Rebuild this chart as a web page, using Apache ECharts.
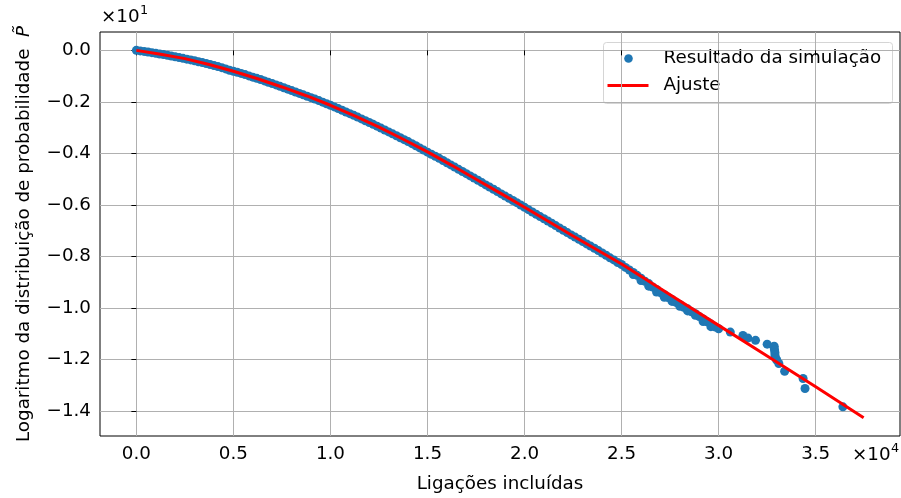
<!DOCTYPE html>
<html>
<head>
<meta charset="utf-8">
<script src="https://cdn.jsdelivr.net/npm/echarts@6/dist/echarts.min.js"></script>
<style>
  html, body { margin: 0; padding: 0; background: #fff; }
  #main { width: 901px; height: 498px; }
</style>
</head>
<body>
<div id="main"></div>
<script>
// tick positions (raw units; labels divided by the ×10^n factor)
var xTicks = [0, 5000, 10000, 15000, 20000, 25000, 30000, 35000];
var yTicks = [-14, -12, -10, -8, -6, -4, -2, 0];

// simulation result: ligações incluídas
var simX = [
  0, 200, 400, 600, 800, 1000, 1200, 1400, 1600, 1800,
  2000, 2200, 2400, 2600, 2800, 3000, 3200, 3400, 3600, 3800,
  4000, 4200, 4400, 4600, 4800, 5000, 5200, 5400, 5600, 5800,
  6000, 6200, 6400, 6600, 6800, 7000, 7200, 7400, 7600, 7800,
  8000, 8200, 8400, 8600, 8800, 9000, 9200, 9400, 9600, 9800,
  10000, 10200, 10400, 10600, 10800, 11000, 11200, 11400, 11600, 11800,
  12000, 12200, 12400, 12600, 12800, 13000, 13200, 13400, 13600, 13800,
  14000, 14200, 14400, 14600, 14800, 15000, 15200, 15400, 15600, 15800,
  16000, 16200, 16400, 16600, 16800, 17000, 17200, 17400, 17600, 17800,
  18000, 18200, 18400, 18600, 18800, 19000, 19200, 19400, 19600, 19800,
  20000, 20200, 20400, 20600, 20800, 21000, 21200, 21400, 21600, 21800,
  22000, 22200, 22400, 22600, 22800, 23000, 23200, 23400, 23600, 23800,
  24000, 24200, 24400, 24600, 24800, 25000, 25200, 25400, 25600, 25600,
  25800, 26000, 26000, 26200, 26400, 26400, 26600, 26800, 26800, 27000,
  27200, 27200, 27400, 27600, 27600, 27800, 28000, 28000, 28200, 28400,
  28400, 28600, 28800, 28800, 29000, 29200, 29200, 29400, 29600, 29600,
  29800, 30000, 30600, 31250, 31500, 31900, 32500, 32860, 32860, 32880,
  32900, 32900, 32950, 33000, 33100, 33400, 34350, 34450, 36400
];
// simulation result: logaritmo da probabilidade
var simY = [
  0, -0.02, -0.04, -0.065, -0.09, -0.115, -0.14, -0.165, -0.19, -0.22,
  -0.25, -0.28, -0.31, -0.34, -0.37, -0.405, -0.44, -0.475, -0.51, -0.55,
  -0.59, -0.63, -0.67, -0.72, -0.77, -0.81, -0.85, -0.895, -0.94, -0.99,
  -1.04, -1.085, -1.13, -1.185, -1.24, -1.29, -1.34, -1.395, -1.45, -1.505,
  -1.56, -1.615, -1.67, -1.725, -1.78, -1.835, -1.89, -1.95, -2.01, -2.07,
  -2.13, -2.195, -2.26, -2.325, -2.39, -2.455, -2.52, -2.59, -2.66, -2.73,
  -2.80, -2.87, -2.94, -3.015, -3.09, -3.165, -3.24, -3.315, -3.39, -3.465,
  -3.54, -3.62, -3.70, -3.785, -3.87, -3.95, -4.03, -4.11, -4.19, -4.275,
  -4.36, -4.445, -4.53, -4.615, -4.70, -4.785, -4.87, -4.955, -5.04, -5.13,
  -5.22, -5.305, -5.39, -5.48, -5.57, -5.655, -5.74, -5.825, -5.91, -6.00,
  -6.09, -6.18, -6.27, -6.36, -6.45, -6.535, -6.62, -6.71, -6.80, -6.89,
  -6.98, -7.07, -7.16, -7.245, -7.33, -7.42, -7.51, -7.595, -7.68, -7.77,
  -7.86, -7.95, -8.05, -8.13, -8.23, -8.31, -8.42, -8.52, -8.62, -8.70,
  -8.73, -8.84, -8.93, -8.96, -9.05, -9.15, -9.18, -9.28, -9.38, -9.40,
  -9.48, -9.58, -9.59, -9.67, -9.74, -9.78, -9.86, -9.93, -9.97, -10.03,
  -10.11, -10.14, -10.22, -10.28, -10.33, -10.42, -10.52, -10.53, -10.62, -10.72,
  -10.73, -10.80, -10.93, -11.06, -11.16, -11.25, -11.40, -11.48, -11.55, -11.63,
  -11.72, -11.82, -11.95, -12.03, -12.15, -12.45, -12.73, -13.12, -13.83
];

// ajuste
var fitX = [0, 1250, 2500, 3750, 5000, 6250, 7500, 8750, 10000, 11250,
  12500, 13750, 15000, 16250, 17500, 18750, 20000, 22500, 25000, 27500,
  30000, 32500, 35000, 37470];
var fitY = [0, -0.15, -0.32, -0.55, -0.81, -1.10, -1.42, -1.76, -2.13, -2.54,
  -2.98, -3.45, -3.94, -4.46, -5.00, -5.54, -6.09, -7.20, -8.29, -9.48,
  -10.67, -11.86, -13.05, -14.25];

var FONT = 'DejaVu Sans';
var FS = 18.3;

function zip(a, b) {
  var out = [];
  for (var i = 0; i < a.length; i++) out.push([a[i], b[i]]);
  return out;
}

function fmt(v) {
  return v.toFixed(1).replace('-', '\u2212');
}

var chart = echarts.init(document.getElementById('main'), null, { renderer: 'canvas' });

chart.setOption({
  animation: false,
  backgroundColor: '#ffffff',
  textStyle: { fontFamily: FONT },
  grid: {
    left: 100, right: 1, top: 32, bottom: 60,
    show: true, borderColor: '#000000', borderWidth: 1, backgroundColor: 'transparent'
  },
  xAxis: {
    type: 'value',
    min: -1873.5,
    max: 39343.5,
    name: 'Ligações incluídas',
    nameLocation: 'middle',
    nameGap: 39,
    nameTextStyle: { fontFamily: FONT, fontSize: FS, color: '#000' },
    axisLine: { show: false },
    axisTick: { show: true, length: 5, customValues: xTicks, lineStyle: { color: '#000', width: 1 } },
    axisLabel: {
      customValues: xTicks, margin: 9, fontFamily: FONT, fontSize: FS, color: '#000',
      formatter: function (v) { return fmt(v / 10000); }
    },
    splitLine: { show: true, lineStyle: { color: '#b0b0b0', width: 1 } }
  },
  yAxis: {
    type: 'value',
    min: -14.9625,
    max: 0.7125,
    name: 'Logaritmo da distribuição de probabilidade  {p|P̃}',
    nameLocation: 'middle',
    nameGap: 67,
    nameRotate: 90,
    nameTextStyle: {
      fontFamily: FONT, fontSize: FS, color: '#000',
      rich: { p: { fontFamily: FONT, fontSize: FS, fontStyle: 'italic', color: '#000' } }
    },
    axisLine: { show: false },
    axisTick: { show: true, length: 5, customValues: yTicks, lineStyle: { color: '#000', width: 1 } },
    axisLabel: {
      customValues: yTicks, margin: 9, fontFamily: FONT, fontSize: FS, color: '#000',
      formatter: function (v) { return fmt(v / 10); }
    },
    splitLine: { show: true, lineStyle: { color: '#b0b0b0', width: 1 } }
  },
  graphic: [
    // axis offset texts
    { type: 'text', left: 101, top: 8, style: { text: '×10', font: FS + 'px ' + FONT, fill: '#000' } },
    { type: 'text', left: 140, top: 4, style: { text: '1', font: '12.8px ' + FONT, fill: '#000' } },
    { type: 'text', left: 852, top: 446, style: { text: '×10', font: FS + 'px ' + FONT, fill: '#000' } },
    { type: 'text', left: 891, top: 442, style: { text: '4', font: '12.8px ' + FONT, fill: '#000' } },
    // legend
    {
      type: 'group', left: 603, top: 42, z: 100,
      children: [
        { type: 'rect', shape: { x: 0, y: 0, width: 289, height: 61, r: 3 },
          style: { fill: 'rgba(255,255,255,0.8)', stroke: '#d5d5d5', lineWidth: 1 } },
        { type: 'circle', shape: { cx: 25, cy: 16, r: 4.3 }, style: { fill: '#1f77b4' } },
        { type: 'line', shape: { x1: 4, y1: 43, x2: 45, y2: 43 }, style: { stroke: '#ff0000', lineWidth: 3 } },
        { type: 'text', x: 60, y: 16, style: { text: 'Resultado da simulação', font: FS + 'px ' + FONT, fill: '#000', verticalAlign: 'middle' } },
        { type: 'text', x: 60, y: 43, style: { text: 'Ajuste', font: FS + 'px ' + FONT, fill: '#000', verticalAlign: 'middle' } }
      ]
    }
  ],
  series: [
    {
      name: 'Resultado da simulação',
      type: 'scatter',
      symbol: 'circle',
      symbolSize: 9,
      itemStyle: { color: '#1f77b4', opacity: 1 },
      data: zip(simX, simY),
      emphasis: { disabled: true },
      z: 2
    },
    {
      name: 'Ajuste',
      type: 'line',
      showSymbol: false,
      symbol: 'none',
      zlevel: 1,
      lineStyle: { color: '#ff0000', width: 3 },
      data: zip(fitX, fitY),
      emphasis: { disabled: true },
      z: 3
    }
  ]
});
</script>
</body>
</html>
